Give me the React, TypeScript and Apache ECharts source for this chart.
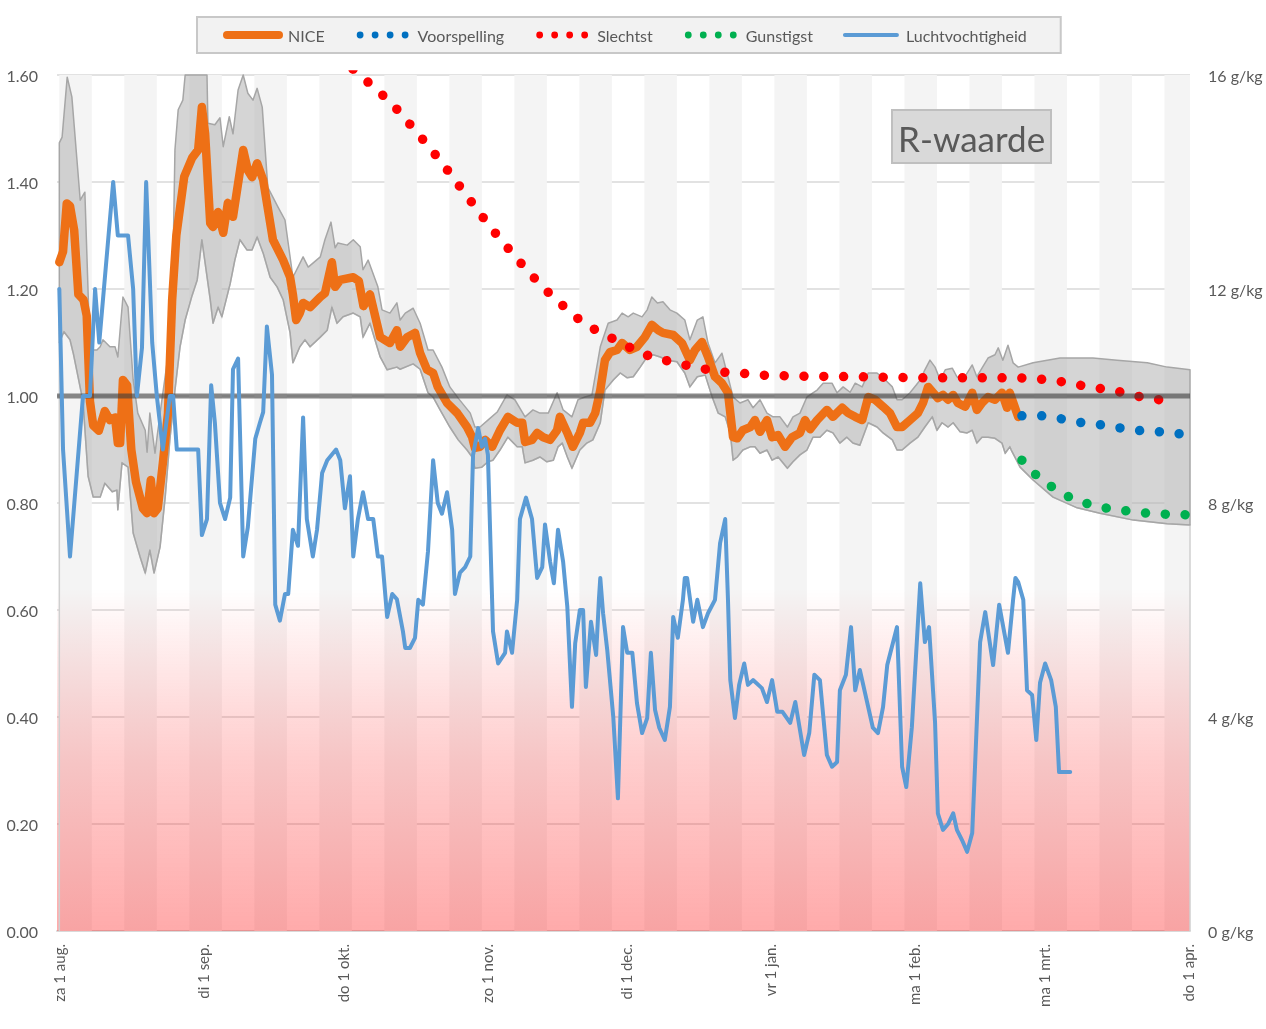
import React, { useEffect, useRef } from 'react';
import * as echarts from 'echarts';

// ---- axis / tick data (day 0 = za 1 aug. 2020) ----
const dayMin = -0.5;
const dayMax = 243.5;
const tickDays = [0, 31, 61, 92, 122, 153, 184, 212, 243];
const tickLabels = ['za 1 aug.', 'di 1 sep.', 'do 1 okt.', 'zo 1 nov.', 'di 1 dec.', 'vr 1 jan.', 'ma 1 feb.', 'ma 1 mrt.', 'do 1 apr.'];
const referenceR = 1.0;
const stripePeriod = 14;
const stripeWidth = 7;
const dangerTop = 0.64;

// ---- series values: [day, value] ----
const niceR: [number, number][] = [
  [0, 1.25], [0.8, 1.27], [1.6, 1.36], [2.3, 1.355], [3.2, 1.31], [4.1, 1.19], [5.2, 1.18], [5.9, 1.15], [6.6, 0.99], [7.3, 0.945],
  [8.5, 0.935], [9.8, 0.972], [10.9, 0.955], [12.0, 0.96], [12.6, 0.912], [13.1, 0.912], [13.7, 1.03], [14.6, 1.02], [15.5, 0.9], [16.5, 0.84],
  [18.0, 0.79], [18.9, 0.781], [19.7, 0.843], [20.4, 0.781], [21.2, 0.79], [22.3, 0.875], [23.4, 0.968], [24.3, 1.18], [25.2, 1.3], [26.9, 1.41],
  [28.6, 1.445], [29.9, 1.46], [30.7, 1.54], [31.4, 1.49], [32.5, 1.323], [33.1, 1.316], [34.2, 1.344], [35.3, 1.305], [36.3, 1.361], [37.4, 1.335],
  [39.6, 1.46], [40.6, 1.422], [41.5, 1.409], [42.6, 1.435], [43.9, 1.404], [46.0, 1.292], [48.2, 1.254], [49.7, 1.222], [50.3, 1.19], [51.0, 1.142],
  [51.8, 1.155], [52.5, 1.174], [54.0, 1.166], [56.2, 1.185], [57.2, 1.192], [58.7, 1.25], [59.4, 1.204], [60.5, 1.217], [63.3, 1.222], [64.5, 1.215],
  [65.5, 1.168], [66.9, 1.19], [69.1, 1.11], [71.2, 1.099], [72.7, 1.123], [73.4, 1.092], [74.9, 1.11], [76.6, 1.118], [77.7, 1.08], [79.2, 1.049],
  [80.5, 1.043], [81.5, 1.017], [83.5, 0.987], [85.7, 0.968], [87.8, 0.942], [88.9, 0.923], [89.5, 0.903], [90.6, 0.905], [91.7, 0.918], [93.2, 0.905],
  [94.9, 0.936], [96.6, 0.961], [98.6, 0.95], [99.7, 0.95], [100.3, 0.914], [101.8, 0.918], [102.9, 0.931], [104.2, 0.923], [105.7, 0.918], [107.2, 0.936],
  [107.8, 0.961], [109.4, 0.931], [110.6, 0.905], [112.1, 0.931], [112.8, 0.95], [114.3, 0.95], [115.4, 0.968], [116.5, 1.011], [117.5, 1.067], [118.6, 1.082],
  [120.1, 1.086], [121.2, 1.099], [122.9, 1.086], [124.4, 1.092], [126.1, 1.11], [127.6, 1.133], [129.0, 1.123], [130.0, 1.118], [132.2, 1.114], [134.1, 1.099],
  [135.8, 1.067], [136.9, 1.086], [138.4, 1.101], [139.7, 1.073], [141.2, 1.036], [142.7, 1.024], [144.0, 1.006], [145.1, 0.923], [146.0, 0.921], [147.2, 0.936],
  [148.8, 0.942], [149.8, 0.955], [150.9, 0.933], [152.4, 0.955], [153.5, 0.923], [154.8, 0.927], [156.3, 0.905], [157.8, 0.923], [159.5, 0.931], [160.6, 0.955],
  [161.7, 0.938], [163.2, 0.955], [165.3, 0.974], [166.6, 0.961], [168.6, 0.978], [169.9, 0.968], [171.4, 0.961], [172.9, 0.955], [174.2, 0.998], [175.7, 0.993],
  [177.4, 0.98], [178.9, 0.968], [180.4, 0.942], [181.5, 0.942], [183.2, 0.955], [184.9, 0.968], [186.0, 0.987], [187.1, 1.017], [188.2, 1.006], [189.2, 0.996],
  [190.3, 1.002], [191.4, 0.993], [192.5, 1.002], [193.5, 0.987], [195.1, 0.98], [196.6, 1.006], [197.6, 0.974], [198.7, 0.987], [200.0, 0.998], [201.5, 0.993],
  [203.0, 1.006], [204.1, 0.978], [204.7, 1.006], [206.5, 0.961],
];

const bandUpper: [number, number][] = [
  [0, 1.473], [0.6, 1.484], [1.7, 1.596], [2.7, 1.559], [4.5, 1.366], [5.5, 1.381], [6.6, 1.086], [8.1, 1.086], [8.8, 1.092], [9.4, 1.105],
  [10.9, 1.092], [12.0, 1.092], [12.6, 1.073], [13.7, 1.185], [14.8, 1.166], [15.9, 1.03], [16.9, 0.968], [18.5, 0.936], [18.9, 0.895], [19.5, 0.968],
  [20.6, 0.893], [21.7, 0.968], [23.2, 1.062], [24.3, 1.155], [24.9, 1.46], [25.6, 1.535], [26.6, 1.553], [27.1, 1.62], [31.8, 1.62], [32.0, 1.51],
  [33.5, 1.507], [34.6, 1.52], [35.3, 1.466], [36.6, 1.522], [37.4, 1.49], [38.5, 1.572], [39.6, 1.61], [40.6, 1.566], [41.7, 1.553], [42.6, 1.575],
  [43.7, 1.54], [44.9, 1.39], [47.1, 1.353], [48.6, 1.329], [50.3, 1.222], [51.4, 1.241], [52.5, 1.26], [53.6, 1.241], [56.2, 1.26], [57.2, 1.292],
  [58.5, 1.325], [59.4, 1.277], [60.0, 1.286], [62.0, 1.282], [63.3, 1.292], [64.8, 1.279], [65.4, 1.236], [66.5, 1.254], [68.6, 1.204], [69.5, 1.161],
  [71.2, 1.155], [72.7, 1.174], [73.4, 1.142], [74.5, 1.155], [76.2, 1.164], [77.7, 1.136], [79.4, 1.086], [80.5, 1.086], [82.4, 1.054], [84.1, 1.017],
  [85.9, 0.996], [88.5, 0.968], [89.5, 0.942], [90.6, 0.942], [92.3, 0.955], [94.3, 0.97], [96.4, 1.002], [98.1, 0.993], [100.3, 0.961], [102.0, 0.974],
  [103.5, 0.968], [105.3, 0.968], [107.2, 1.006], [108.5, 0.974], [110.4, 0.961], [111.7, 0.993], [113.2, 0.998], [114.7, 1.002], [116.5, 1.092], [118.2, 1.136],
  [120.1, 1.142], [121.2, 1.155], [122.5, 1.148], [123.6, 1.155], [125.5, 1.148], [126.6, 1.161], [127.6, 1.185], [128.8, 1.174], [130.0, 1.176], [131.5, 1.161],
  [133.0, 1.155], [134.7, 1.142], [135.8, 1.105], [137.4, 1.142], [138.6, 1.148], [139.7, 1.099], [141.2, 1.062], [142.7, 1.08], [144.0, 1.036], [145.1, 0.998],
  [146.6, 0.987], [148.3, 0.993], [149.4, 0.978], [150.9, 0.993], [152.4, 0.968], [153.7, 0.961], [155.2, 0.961], [156.8, 0.942], [158.0, 0.961], [159.5, 0.968],
  [161.0, 0.998], [162.3, 1.006], [163.2, 1.011], [164.5, 1.024], [166.4, 1.024], [167.5, 1.006], [168.8, 1.017], [170.3, 1.007], [171.4, 1.024], [172.9, 1.017],
  [174.2, 1.043], [176.1, 1.043], [177.9, 1.03], [179.4, 1.017], [180.4, 0.993], [181.5, 0.993], [183.2, 1.006], [185.4, 1.03], [186.4, 1.049], [187.5, 1.067],
  [188.6, 1.054], [189.7, 1.03], [190.8, 1.049], [192.3, 1.052], [193.3, 1.036], [194.6, 1.03], [196.6, 1.058], [197.6, 1.036], [198.7, 1.052], [200.0, 1.071],
  [201.5, 1.077], [202.2, 1.09], [203.2, 1.067], [204.3, 1.095], [205.4, 1.062], [206.5, 1.054], [209.7, 1.062], [215.5, 1.071], [222.6, 1.071], [227.8, 1.067],
  [234.3, 1.062], [238.6, 1.054], [243.5, 1.049],
];

const bandLower: [number, number][] = [
  [0, 1.1], [1.0, 1.12], [2.3, 1.105], [3.0, 1.08], [5.1, 0.99], [6.2, 0.85], [7.3, 0.811], [8.8, 0.811], [9.8, 0.837], [11.4, 0.821],
  [12.4, 0.824], [12.6, 0.787], [13.5, 0.875], [14.8, 0.867], [15.9, 0.744], [17.4, 0.699], [18.5, 0.669], [19.5, 0.712], [20.4, 0.669], [21.7, 0.718],
  [22.8, 0.811], [23.8, 0.918], [24.9, 1.011], [26.0, 1.092], [27.1, 1.142], [28.6, 1.188], [29.7, 1.217], [30.7, 1.292], [32.5, 1.18], [33.1, 1.136],
  [34.2, 1.166], [35.0, 1.148], [36.8, 1.21], [37.8, 1.254], [38.9, 1.292], [40.4, 1.273], [41.5, 1.273], [42.6, 1.297], [43.9, 1.267], [45.4, 1.222],
  [46.9, 1.204], [48.2, 1.18], [49.7, 1.118], [50.3, 1.062], [51.8, 1.092], [52.9, 1.105], [54.0, 1.092], [56.2, 1.11], [57.7, 1.123], [58.7, 1.166],
  [59.8, 1.136], [61.1, 1.148], [63.3, 1.155], [64.8, 1.148], [65.4, 1.11], [66.9, 1.136], [69.1, 1.073], [70.6, 1.049], [72.7, 1.054], [73.4, 1.05],
  [76.2, 1.06], [77.7, 1.05], [79.4, 1.006], [80.5, 0.998], [82.0, 0.974], [84.1, 0.942], [85.9, 0.918], [87.8, 0.899], [88.9, 0.886], [89.5, 0.865],
  [91.0, 0.867], [92.3, 0.877], [93.4, 0.88], [94.9, 0.899], [96.6, 0.923], [98.6, 0.905], [99.7, 0.905], [100.3, 0.875], [102.0, 0.88], [103.5, 0.886],
  [105.0, 0.877], [106.4, 0.88], [107.4, 0.905], [108.3, 0.912], [109.4, 0.886], [110.4, 0.865], [112.1, 0.899], [113.6, 0.912], [114.9, 0.918], [116.5, 0.95],
  [117.5, 1.011], [119.3, 1.03], [120.8, 1.043], [122.3, 1.034], [123.6, 1.036], [125.1, 1.054], [126.6, 1.073], [127.9, 1.077], [129.4, 1.073], [130.9, 1.067],
  [133.0, 1.064], [134.7, 1.043], [135.8, 1.017], [137.4, 1.036], [139.1, 1.039], [140.6, 0.998], [141.9, 0.968], [143.4, 0.961], [144.5, 0.931], [145.1, 0.88],
  [146.0, 0.886], [147.2, 0.899], [148.8, 0.905], [149.8, 0.905], [150.9, 0.893], [152.4, 0.899], [153.5, 0.88], [154.8, 0.886], [156.8, 0.865], [158.0, 0.877],
  [159.5, 0.89], [161.0, 0.899], [162.3, 0.923], [163.8, 0.923], [165.3, 0.936], [166.6, 0.931], [168.1, 0.912], [169.6, 0.923], [170.9, 0.912], [172.4, 0.908],
  [174.2, 0.95], [176.1, 0.942], [177.4, 0.931], [179.4, 0.918], [180.4, 0.899], [181.5, 0.899], [183.2, 0.912], [184.9, 0.923], [186.4, 0.942], [188.0, 0.961],
  [189.0, 0.936], [190.1, 0.95], [191.4, 0.942], [192.5, 0.95], [194.0, 0.933], [195.5, 0.931], [196.6, 0.936], [197.6, 0.912], [198.7, 0.923], [200.0, 0.923],
  [201.5, 0.921], [203.0, 0.912], [203.7, 0.893], [204.7, 0.905], [205.0, 0.899], [206.9, 0.867], [209.7, 0.843], [214.0, 0.811], [219.2, 0.791], [224.1, 0.781],
  [231.3, 0.768], [238.6, 0.761], [243.5, 0.759],
];

const worstCase: [number, number][] = [
  [60, 1.635], [65.0, 1.598], [71.5, 1.548], [77.0, 1.493], [82.4, 1.436], [87.6, 1.376], [92.8, 1.316], [98.4, 1.258], [104.0, 1.204], [107.2, 1.179],
  [110.4, 1.153], [113.9, 1.131], [117.5, 1.114], [121.2, 1.099], [125.1, 1.08], [129.4, 1.069], [133.7, 1.06], [138.0, 1.052], [142.1, 1.045], [146.4, 1.043],
  [150.7, 1.039], [159.1, 1.037], [172.0, 1.036], [184.9, 1.034], [206.5, 1.034], [210.8, 1.032], [215.1, 1.028], [219.2, 1.021], [223.5, 1.015], [227.8, 1.009],
  [231.9, 1.0], [236.2, 0.994], [240.5, 0.987],
];

const forecastR: [number, number][] = [
  [207.3, 0.963], [211.7, 0.963], [216.0, 0.957], [220.3, 0.95], [224.6, 0.946], [228.7, 0.94], [233.0, 0.935], [237.3, 0.933], [241.5, 0.929],
];

const bestCase: [number, number][] = [
  [207.3, 0.88], [210.4, 0.852], [213.8, 0.83], [217.5, 0.811], [221.6, 0.798], [225.7, 0.79], [230.0, 0.785], [234.3, 0.781], [238.6, 0.779], [243.0, 0.778],
];

// absolute humidity, g/kg (right axis)
const humidity: [number, number][] = [
  [0, 12.0], [0.8, 9.0], [2.3, 7.0], [5.1, 10.0], [6.6, 10.0], [7.7, 12.0], [8.6, 11.0], [11.6, 14.0], [12.6, 13.0], [14.8, 13.0],
  [15.9, 12.0], [16.7, 10.0], [17.8, 10.9], [18.7, 14.0], [20.0, 11.0], [21.0, 10.0], [22.3, 9.0], [23.8, 10.0], [24.5, 10.0], [25.3, 9.0],
  [29.9, 9.0], [30.7, 7.4], [31.8, 7.7], [32.7, 10.2], [33.5, 9.5], [34.6, 8.0], [35.7, 7.7], [36.8, 8.1], [37.4, 10.5], [38.5, 10.7],
  [39.6, 7.0], [40.6, 7.55], [42.2, 9.2], [43.2, 9.5], [43.9, 9.7], [44.7, 11.3], [45.8, 10.4], [46.5, 6.1], [47.5, 5.8], [48.6, 6.3],
  [49.3, 6.3], [50.3, 7.5], [51.4, 7.2], [52.5, 9.6], [53.3, 7.7], [54.6, 7.0], [55.5, 7.5], [56.6, 8.56], [57.7, 8.8], [59.6, 9.0],
  [60.5, 8.8], [61.5, 7.9], [62.6, 8.5], [63.3, 7.0], [64.3, 7.7], [65.4, 8.2], [66.5, 7.7], [67.6, 7.7], [68.6, 7.0], [69.5, 7.0],
  [70.6, 5.87], [71.7, 6.3], [72.7, 6.2], [74.0, 5.6], [74.5, 5.29], [75.5, 5.29], [76.6, 5.48], [77.3, 6.19], [78.3, 6.1], [79.4, 7.1],
  [80.5, 8.8], [81.5, 8.0], [82.4, 7.8], [83.5, 8.2], [84.6, 7.5], [85.2, 6.3], [86.3, 6.7], [87.4, 6.8], [88.5, 7.0], [89.1, 8.9],
  [90.2, 9.4], [91.0, 9.05], [91.7, 9.2], [92.3, 8.9], [93.4, 5.6], [94.5, 5.0], [96.0, 5.2], [96.4, 5.6], [97.5, 5.2], [98.6, 6.19],
  [99.2, 7.7], [100.5, 8.1], [101.8, 7.7], [102.9, 6.6], [104.0, 6.8], [104.6, 7.6], [105.7, 6.9], [106.5, 6.5], [107.4, 7.5], [108.5, 6.9],
  [109.4, 6.06], [110.4, 4.19], [111.1, 5.38], [112.1, 6.0], [112.8, 6.0], [113.4, 4.56], [114.5, 5.78], [115.6, 5.16], [116.2, 6.19], [116.5, 6.6],
  [117.1, 5.94], [118.0, 5.25], [119.3, 4.0], [120.3, 2.48], [121.4, 5.68], [122.3, 5.2], [123.4, 5.2], [124.4, 4.26], [125.5, 3.7], [126.6, 3.98],
  [127.4, 5.2], [128.3, 4.13], [129.2, 3.8], [130.4, 3.57], [131.5, 4.19], [132.2, 5.87], [133.2, 5.48], [134.3, 6.19], [134.7, 6.6], [135.2, 6.6],
  [136.5, 5.78], [137.4, 6.19], [138.6, 5.68], [139.7, 5.94], [141.2, 6.19], [142.3, 7.25], [143.4, 7.7], [144.0, 6.19], [144.5, 4.69], [145.5, 3.98],
  [146.4, 4.6], [147.5, 5.0], [148.3, 4.6], [149.4, 4.69], [151.3, 4.54], [152.4, 4.28], [153.5, 4.69], [154.6, 4.1], [155.7, 4.1], [157.4, 3.89],
  [158.5, 4.28], [160.4, 3.29], [161.5, 3.7], [162.6, 4.79], [163.8, 4.69], [165.3, 3.29], [166.4, 3.07], [167.5, 3.16], [168.1, 4.5], [169.4, 4.79],
  [170.5, 5.68], [171.4, 4.5], [172.4, 4.88], [175.2, 3.8], [176.3, 3.7], [177.4, 4.19], [178.3, 4.97], [180.4, 5.68], [181.5, 3.07], [182.4, 2.69],
  [183.6, 3.81], [185.4, 6.5], [186.4, 5.4], [187.3, 5.68], [188.6, 3.89], [189.2, 2.2], [190.3, 1.89], [191.4, 2.0], [192.5, 2.2], [193.3, 1.89],
  [194.4, 1.7], [195.5, 1.48], [196.6, 1.83], [197.2, 3.07], [198.3, 5.4], [199.4, 5.96], [201.1, 4.97], [202.4, 6.1], [204.3, 5.2], [205.4, 6.19],
  [205.9, 6.6], [206.5, 6.52], [207.6, 6.19], [208.4, 4.5], [209.5, 4.41], [210.4, 3.57], [211.2, 4.64], [212.3, 5.0], [213.6, 4.69], [214.6, 4.19],
  [215.3, 2.97], [217.7, 2.97],
];

const FONT = 'Lato, "Open Sans", sans-serif';
const TEXT = '#595959';
const ORANGE = '#ee7016';
const HUMID = '#5b9bd5';
const RED = '#ff0000';
const BLUE = '#0070c0';
const GREEN = '#00b050';

// legend icons (60 x 8 bounding box, tiny corner anchors keep the box size)
const anchors = 'M0,0 L0.01,0 L0,0.01 Z M60,8 L59.99,8 L60,7.99 Z ';
const barIcon = 'path://M4,0 L56,0 A4,4 0 0 1 56,8 L4,8 A4,4 0 0 1 4,0 Z';
const thinIcon = 'path://' + anchors + 'M4,2 L56,2 A2,2 0 0 1 56,6 L4,6 A2,2 0 0 1 4,2 Z';
const dotIcon = 'path://' + anchors + [7.5, 22.5, 37.5, 52.5]
  .map((c) => `M${c - 3.4},4 a3.4,3.4 0 1,0 6.8,0 a3.4,3.4 0 1,0 -6.8,0 Z`).join(' ');

export default function App() {
  const ref = useRef<HTMLDivElement>(null);

  useEffect(() => {
    if (!ref.current) return;
    const chart = echarts.init(ref.current, undefined, { renderer: 'svg' });

    const stripes: any[] = [];
    for (let s = 0; s < dayMax; s += stripePeriod) {
      stripes.push([
        { xAxis: Math.max(s, dayMin), itemStyle: { color: '#f4f4f4' } },
        { xAxis: Math.min(s + stripeWidth, dayMax) },
      ]);
    }
    stripes.push([
      {
        yAxis: dangerTop,
        itemStyle: {
          color: new echarts.graphic.LinearGradient(0, 0, 0, 1, [
            { offset: 0, color: 'rgba(255,0,0,0)' },
            { offset: 0.5, color: 'rgba(255,20,20,0.21)' },
            { offset: 1, color: 'rgba(255,20,20,0.36)' },
          ]),
        },
      },
      { yAxis: 0 },
    ]);

    const dottedStyle = (color: string) => ({ color, width: 9.5, type: [0.01, 19.8], cap: 'round' as const });

    chart.setOption({
      animation: false,
      textStyle: { fontFamily: FONT },
      title: {
        text: 'R-waarde',
        left: 892,
        top: 110,
        padding: [10, 6, 8, 6],
        backgroundColor: '#d9d9d9',
        borderColor: '#bfbfbf',
        borderWidth: 2,
        textStyle: { fontSize: 35, fontWeight: 'normal', color: TEXT, fontFamily: FONT },
      },
      legend: {
        left: 197,
        top: 17,
        padding: [10, 34, 10, 26],
        backgroundColor: '#f2f2f2',
        borderColor: '#c8c8c8',
        borderWidth: 2,
        itemWidth: 60,
        itemHeight: 8,
        itemGap: 28,
        selectedMode: false,
        textStyle: { color: TEXT, fontSize: 16, fontFamily: FONT },
        data: [
          { name: 'NICE', icon: barIcon },
          { name: 'Voorspelling', icon: dotIcon },
          { name: 'Slechtst', icon: dotIcon },
          { name: 'Gunstigst', icon: dotIcon },
          { name: 'Luchtvochtigheid', icon: thinIcon },
        ],
      },
      grid: { left: 57, right: 76, top: 75, bottom: 98, containLabel: false },
      xAxis: {
        type: 'value',
        min: dayMin,
        max: dayMax,
        splitLine: { show: false },
        axisTick: { show: false },
        axisLine: { show: true, lineStyle: { color: '#d9d9d9', width: 2 } },
        axisLabel: {
          customValues: tickDays,
          rotate: 90,
          margin: 13,
          color: TEXT,
          fontSize: 15,
          fontFamily: FONT,
          formatter: (v: number) => {
            const i = tickDays.indexOf(Math.round(v));
            return i >= 0 ? tickLabels[i] : '';
          },
        },
      },
      yAxis: [
        {
          type: 'value',
          min: 0,
          max: 1.6,
          interval: 0.2,
          axisLine: { show: false },
          axisTick: { show: false },
          splitLine: { lineStyle: { color: '#d9d9d9', width: 1.5 } },
          axisLabel: { formatter: (v: number) => v.toFixed(2), color: TEXT, fontSize: 16, margin: 19, fontFamily: FONT },
        },
        {
          type: 'value',
          min: 0,
          max: 16,
          interval: 4,
          position: 'right',
          axisLine: { show: false },
          axisTick: { show: false },
          splitLine: { show: false },
          axisLabel: { formatter: (v: number) => `${v} g/kg`, color: TEXT, fontSize: 16, margin: 18, fontFamily: FONT },
        },
      ],
      series: [
        {
          name: 'bg',
          type: 'line',
          data: [[dayMin, 0]],
          showSymbol: false,
          lineStyle: { width: 0 },
          silent: true,
          z: 0,
          markArea: { silent: true, label: { show: false }, data: stripes },
        },
        {
          name: 'band',
          type: 'custom',
          data: [[0, 0]],
          silent: true,
          z: 1,
          renderItem: (params: any, api: any) => {
            const cs = params.coordSys;
            const rect = { x: cs.x, y: cs.y, width: cs.width, height: cs.height };
            const up = bandUpper.map((p) => api.coord(p));
            const lo = bandLower.map((p) => api.coord(p));
            const poly = echarts.graphic.clipPointsByRect([...up, ...lo.slice().reverse()], rect);
            const base = [
              api.coord([bandLower[0][0], 0]),
              ...lo,
              api.coord([bandLower[bandLower.length - 1][0], 0]),
            ];
            return {
              type: 'group',
              children: [
                {
                  type: 'polyline',
                  shape: { points: base },
                  style: { fill: null, stroke: '#cfcfcf', lineWidth: 1.5 },
                },
                {
                  type: 'polygon',
                  shape: { points: poly },
                  style: { fill: 'rgba(178,178,178,0.55)', stroke: '#a6a6a6', lineWidth: 1.5, lineJoin: 'round' },
                },
              ],
            };
          },
        },
        {
          name: 'NICE',
          type: 'line',
          data: niceR,
          showSymbol: false,
          z: 3,
          color: ORANGE,
          lineStyle: { color: ORANGE, width: 8.5, cap: 'round', join: 'round' },
        },
        {
          name: 'Slechtst',
          type: 'line',
          data: worstCase,
          showSymbol: false,
          z: 4,
          color: RED,
          lineStyle: dottedStyle(RED),
        },
        {
          name: 'Voorspelling',
          type: 'line',
          data: forecastR,
          showSymbol: false,
          z: 4,
          color: BLUE,
          lineStyle: dottedStyle(BLUE),
        },
        {
          name: 'Gunstigst',
          type: 'line',
          data: bestCase,
          showSymbol: false,
          z: 4,
          color: GREEN,
          lineStyle: dottedStyle(GREEN),
        },
        {
          name: 'ref',
          type: 'line',
          data: [[dayMin, referenceR], [dayMax, referenceR]],
          showSymbol: false,
          silent: true,
          z: 5,
          lineStyle: { color: 'rgba(60,60,60,0.6)', width: 5 },
        },
        {
          name: 'Luchtvochtigheid',
          type: 'line',
          yAxisIndex: 1,
          data: humidity,
          showSymbol: false,
          z: 6,
          color: HUMID,
          lineStyle: { color: HUMID, width: 4, join: 'round', cap: 'round' },
        },
      ],
    });

    return () => chart.dispose();
  }, []);

  return <div ref={ref} style={{ position: 'fixed', left: 0, top: 0, width: 1266, height: 1029 }} />;
}
